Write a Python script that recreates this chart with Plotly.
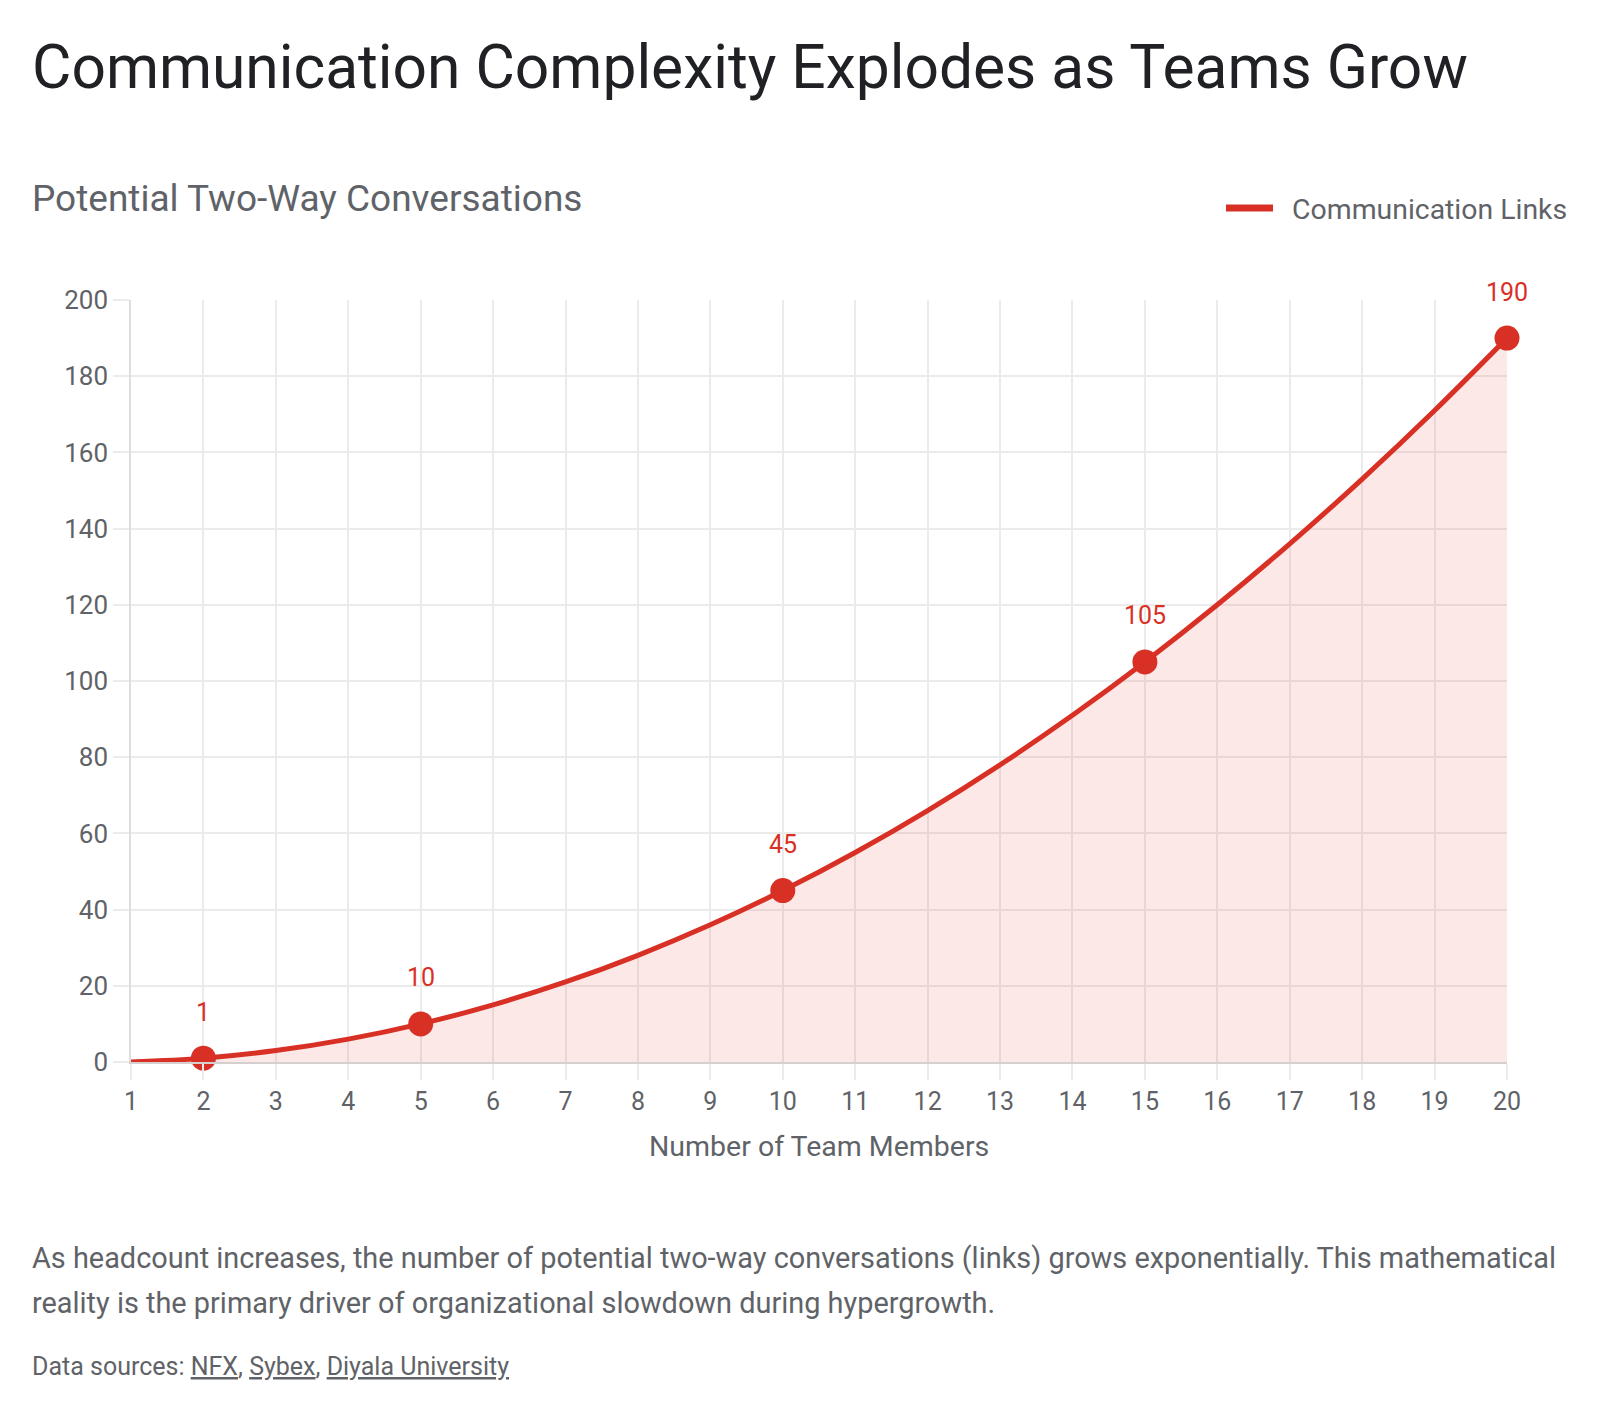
import plotly.graph_objects as go

team_size = list(range(1, 21))
links = [0, 1, 3, 6, 10, 15, 21, 28, 36, 45, 55, 66, 78, 91, 105, 120, 136, 153, 171, 190]
highlight_x = [2, 5, 10, 15, 20]
highlight_y = [1, 10, 45, 105, 190]

RED = "#d93025"
GREY = "#5f6368"
FONT = "Roboto, Arial, sans-serif"

W, H = 1600, 1414
L, R, T, B = 131, 93, 300, 352
PW, PH = W - L - R, H - T - B


def px(x):
    return (x - L) / PW


def py(y):
    return (H - B - y) / PH


fig = go.Figure()
fig.add_trace(go.Scatter(
    x=team_size, y=links, mode="lines", name="Communication Links", showlegend=False,
    line=dict(color=RED, width=5, shape="spline"),
    fill="tozeroy", fillcolor="rgba(217,48,37,0.11)",
    hoverinfo="x+y",
))
fig.add_trace(go.Scatter(
    x=highlight_x, y=highlight_y, mode="markers", showlegend=False,
    marker=dict(color=RED, size=25), cliponaxis=False,
))
# legend entry
fig.add_trace(go.Scatter(
    x=[None], y=[None], mode="lines", name="\u00a0\u00a0Communication Links",
    line=dict(color=RED, width=7),
))

annotations = []
for xv, yv in zip(highlight_x, highlight_y):
    annotations.append(dict(x=xv, y=yv, xref="x", yref="y", text=str(yv),
                            showarrow=False, yshift=46,
                            font=dict(family=FONT, size=25, color=RED)))

body_lines = [
    "As headcount increases, the number of potential two-way conversations (links) grows exponentially. This mathematical",
    "reality is the primary driver of organizational slowdown during hypergrowth.",
]
body_y = [1258, 1303]

annotations += [
    dict(x=px(30), y=py(68), xref="paper", yref="paper", xanchor="left", yanchor="middle",
         text="Communication Complexity Explodes as Teams Grow", showarrow=False,
         font=dict(family=FONT, size=60.5, color="#202124")),
    dict(x=px(30), y=py(199), xref="paper", yref="paper", xanchor="left", yanchor="middle",
         text="Potential Two-Way Conversations", showarrow=False,
         font=dict(family=FONT, size=37, color=GREY)),
    dict(x=px(819), y=py(1146), xref="paper", yref="paper", xanchor="center", yanchor="middle",
         text="Number of Team Members", showarrow=False,
         font=dict(family=FONT, size=28.5, color=GREY)),
    dict(x=px(30), y=py(1366), xref="paper", yref="paper", xanchor="left", yanchor="middle",
         text="Data sources: <u>NFX</u>, <u>Sybex</u>, <u>Diyala University</u>", showarrow=False,
         font=dict(family=FONT, size=25, color=GREY)),
]
for line, yy in zip(body_lines, body_y):
    annotations.append(dict(x=px(30), y=py(yy), xref="paper", yref="paper", xanchor="left",
                            yanchor="middle", text=line, showarrow=False,
                            font=dict(family=FONT, size=28.9, color=GREY)))

fig.update_layout(
    width=W, height=H,
    margin=dict(l=L, r=R, t=T, b=B),
    paper_bgcolor="white", plot_bgcolor="white",
    font=dict(family=FONT, color=GREY),
    showlegend=True,
    legend=dict(x=px(1573), y=py(208), xref="paper", yref="paper", xanchor="right", yanchor="middle",
                orientation="h", font=dict(family=FONT, size=28.4, color=GREY),
                itemwidth=47, bgcolor="rgba(0,0,0,0)"),
    annotations=annotations,
    xaxis=dict(range=[1, 20], tickmode="array", tickvals=team_size, ticktext=[str(v) for v in team_size],
               showgrid=True, gridcolor="#ebebeb", gridwidth=1.5,
               showline=True, linecolor="#d6cfd0", linewidth=1.5,
               ticks="outside", ticklen=16, tickcolor="#ebebeb", tickwidth=1.5,
               tickfont=dict(family=FONT, size=25, color=GREY), zeroline=False, fixedrange=True),
    yaxis=dict(range=[0, 200], dtick=20, tick0=0,
               showgrid=True, gridcolor="#ebebeb", gridwidth=1.5,
               showline=True, linecolor="#dedede", linewidth=1.5,
               ticks="outside", ticklen=16, tickcolor="#ebebeb", tickwidth=1.5,
               tickfont=dict(family=FONT, size=26, color=GREY), zeroline=False, fixedrange=True),
)

fig.write_html("out.html", include_plotlyjs=True, config={"displayModeBar": False})
